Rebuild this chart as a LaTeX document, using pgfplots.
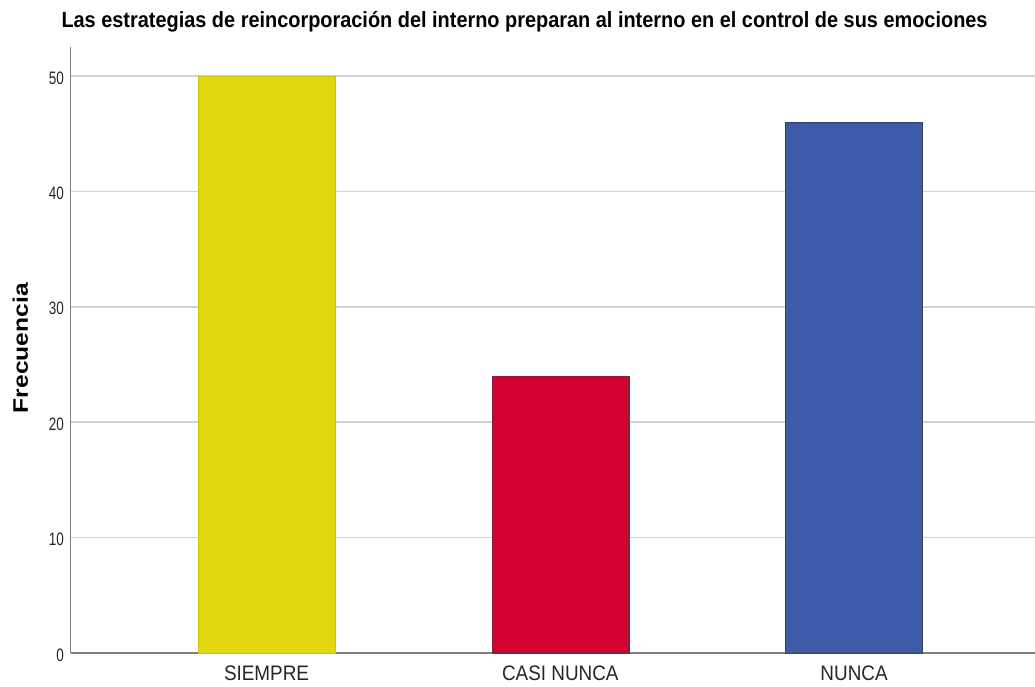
\documentclass[border=0pt]{standalone}
\usepackage{pgfplots}
\pgfplotsset{compat=1.18}
\usepackage{fontspec}
\setmainfont{Liberation Sans}
\newfontfamily\titlefont{Liberation Sans}[FakeStretch=0.905]
\newfontfamily\ytickfont{Liberation Sans}[FakeStretch=0.75]
\newfontfamily\xtickfont{Liberation Sans}[FakeStretch=0.9]
\newfontfamily\labfont{Liberation Sans}[FakeStretch=1.17]
\definecolor{cyel}{HTML}{E1D810}
\definecolor{cred}{HTML}{D50032}
\definecolor{cblue}{HTML}{3E5BA9}
\begin{document}
\begin{tikzpicture}
\begin{axis}[
 scale only axis, width=964.4pt, height=606pt,
 xmin=-0.667, xmax=2.616, ymin=0, ymax=52.51,
 axis lines=left, axis line style={draw=gray, line width=1.2pt, -},
 xtick={0,1,2}, xticklabels={SIEMPRE, CASI NUNCA, NUNCA},
 ytick={0,10,...,50},
 major tick length=0pt,
 ymajorgrids, grid style={draw=gray!35, line width=1.5pt},
 /pgf/number format/assume math mode=true,
 yticklabel style={font=\ytickfont\fontsize{18}{18}\selectfont, inner sep=0pt, anchor=east, xshift=-6.6pt, yshift=-2pt, text=black!85},
 xticklabel style={font=\xtickfont\fontsize{21}{21}\selectfont, inner sep=0pt, anchor=north, yshift=-13pt, text=black!85},
 ylabel={Frecuencia},
 ylabel style={font=\labfont\bfseries\fontsize{21}{21}\selectfont, inner sep=0pt, at={(axis description cs:-0.052,0.503)}, anchor=center},
 title={Las estrategias de reincorporación del interno preparan al interno en el control de sus emociones},
 title style={font=\titlefont\bfseries\fontsize{22}{22}\selectfont, inner sep=0pt, at={(axis description cs:0.4707,1.0215)}, anchor=base},
 clip=false,
 ybar, bar width=137pt, bar shift=0pt,
]
\addplot[fill=cyel, draw=cyel!90!black] coordinates {(0,50)};
\addplot[fill=cred, draw=black!75] coordinates {(1,24)};
\addplot[fill=cblue, draw=black!75] coordinates {(2,46)};
\end{axis}
\pgfresetboundingbox
\useasboundingbox (-70.6pt,-34pt) rectangle (964.4pt,653pt);
\end{tikzpicture}
\end{document}
